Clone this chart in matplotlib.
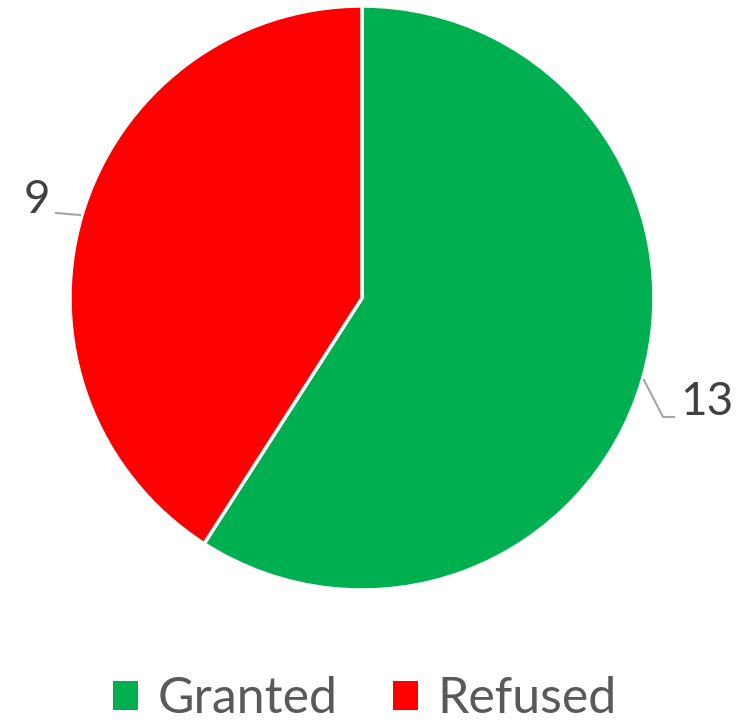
import matplotlib
matplotlib.use('Agg')
import matplotlib.pyplot as plt
from matplotlib.patches import Patch

categories = ['Granted', 'Refused']
counts = [13, 9]
colors = ['#00B050', '#FF0000']

plt.rcParams['font.family'] = ['Lato', 'DejaVu Sans']

W, H = 752, 725
fig = plt.figure(figsize=(W / 100, H / 100), dpi=100)
ax = fig.add_axes([0, 0, 1, 1])

cx, cy, r = 362, H - 298, 292
wedges, _ = ax.pie(counts, colors=colors, startangle=90, counterclock=False,
                   center=(cx, cy), radius=r, frame=True,
                   wedgeprops=dict(edgecolor='white', linewidth=2.5))
ax.set_xlim(0, W)
ax.set_ylim(0, H)
ax.set_aspect('equal')
ax.axis('off')

# value labels with leader lines
lbl_color = '#404040'
line_color = '#A6A6A6'
ax.plot([644, 663, 674], [H - 380, H - 417, H - 417], color=line_color, lw=1.5)
ax.text(680, H - 402, str(counts[0]), fontsize=33, color=lbl_color,
        ha='left', va='center')
ax.plot([56, 80], [H - 213, H - 215], color=line_color, lw=1.5)
ax.text(50, H - 200, str(counts[1]), fontsize=33, color=lbl_color,
        ha='right', va='center')

handles = [Patch(facecolor=c, edgecolor='none') for c in colors]
fig.legend(handles, categories, loc='lower center', ncol=2, frameon=False,
           fontsize=36, labelcolor='#595959', bbox_to_anchor=(0.485, -0.058),
           handlelength=0.5, handleheight=0.5, handletextpad=0.4,
           columnspacing=1.1)

fig.savefig('out.png', dpi=100)
